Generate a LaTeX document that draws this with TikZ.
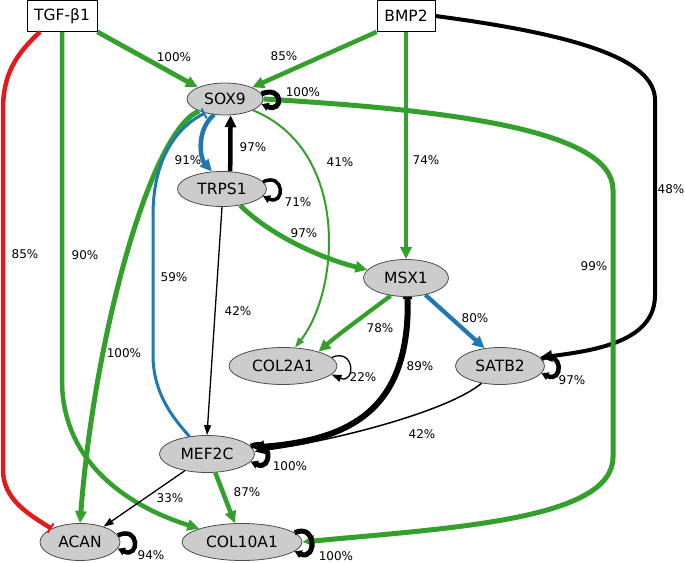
\documentclass[tikz,border=0pt]{standalone}
\usepackage{fontspec}
\setmainfont{DejaVu Sans}
\usetikzlibrary{shapes.geometric}
\usetikzlibrary{arrows.meta}
\definecolor{grn}{HTML}{33A02C}
\definecolor{blu}{HTML}{1F78B4}
\definecolor{rd}{HTML}{E31A1C}
\definecolor{genefill}{HTML}{CCCCCC}

\begin{document}
\begin{tikzpicture}[x=1pt, y=-1pt,
	gene/.style={ellipse, draw=black!70, fill=genefill, line width=0.8pt, inner sep=0pt, minimum height=37pt, font=\fontsize{15.5}{18}\selectfont},
	signal/.style={rectangle, draw=black, fill=white, line width=0.8pt, inner sep=0pt, minimum height=31pt, font=\fontsize{15.5}{18}\selectfont},
	pct/.style={inner sep=0pt, font=\fontsize{12}{14}\selectfont},
	act/.style={-{Triangle[length=12pt,width=11pt]}},
	actsm/.style={-{Triangle[length=10pt,width=7pt]}},
	actloop/.style={-{Triangle[length=7pt,width=8pt]}},
	inh/.style={-{Bar[width=11pt,line width=2pt]}}]
	\useasboundingbox (0,0) rectangle (685,562);
	\node[signal, minimum width=70pt] (tgf) at (62,16) {TGF-β1};
	\node[signal, minimum width=58pt] (bmp2) at (406,16) {BMP2};
	\node[gene, minimum width=76pt, minimum height=32pt] (sox9) at (225,99) {SOX9};
	\node[gene, minimum width=89pt, minimum height=35pt] (trps1) at (222,189) {TRPS1};
	\node[gene, minimum width=85pt] (msx1) at (406,278) {MSX1};
	\node[gene, minimum width=108pt] (col2a1) at (283,366) {COL2A1};
	\node[gene, minimum width=89pt] (satb2) at (500,366) {SATB2};
	\node[gene, minimum width=95pt] (mef2c) at (207,454) {MEF2C};
	\node[gene, minimum width=80pt] (acan) at (80,542) {ACAN};
	\node[gene, minimum width=120pt] (col10a1) at (242,542) {COL10A1};
	% signals
	\draw[line width=4.8pt, grn, act] (tgf.south east) -- (sox9.north west);
	\draw[line width=4.5pt, rd, inh] ([xshift=-22pt]tgf.south) .. controls (15,55) and (3,75) .. (3,110) -- (3,470) .. controls (3,500) and (30,515) .. (acan.north west);
	\draw[line width=4.5pt, grn, act] (tgf.south) -- (62,380) .. controls (62,470) and (140,510) .. (col10a1.north west);
	\draw[line width=4.5pt, grn, act] (bmp2.south west) -- (sox9.north east);
	\draw[line width=4pt, grn, act] (bmp2.south) -- (msx1.north);
	\draw[line width=4pt, act] (bmp2.east) .. controls (580,35) and (655,60) .. (655,100) -- (655,295) .. controls (655,340) and (600,350) .. (satb2.12);
	% SOX9
	\draw[line width=5pt, grn, act] (sox9.east) .. controls (450,110) and (613,130) .. (613,190) -- (613,457) .. controls (613,520) and (450,528) .. (col10a1.east);
	\draw[line width=5pt, actloop] (sox9.8) .. controls +(22,-9) and +(22,9) .. (sox9.-8);
	\draw[line width=4.5pt, blu, act] (sox9.-125) .. controls (196,130) and (200,158) .. (trps1.120);
	\draw[line width=2pt, grn, actsm] (sox9.-22) .. controls (350,150) and (340,290) .. (col2a1.57);
	\draw[line width=5pt, grn, act] (sox9.-155) .. controls (152,130) and (95,330) .. (acan.north);
	% TRPS1
	\draw[line width=4.5pt, act] (trps1.65) -- (sox9.-71);
	\draw[line width=3.5pt, actloop] (trps1.10) .. controls +(22,-10) and +(22,10) .. (trps1.-10);
	\draw[line width=4.8pt, grn, act] (trps1.-42) .. controls (270,235) and (320,258) .. (msx1.168);
	\draw[line width=1.3pt, actsm] (trps1.south) -- (mef2c.north);
	% MSX1
	\draw[line width=4.2pt, grn, act] (msx1.-131) .. controls (365,315) and (340,333) .. (col2a1.22);
	\draw[line width=4.2pt, blu, act] (msx1.-41) -- (satb2.131);
	\draw[line width=6pt, {Bar[width=9pt,line width=2pt]}-{Triangle[length=12pt,width=12pt]}] (msx1.-85) .. controls (410,410) and (350,440) .. (mef2c.8);
	% SATB2, COL2A1
	\draw[line width=1.5pt, actsm] (satb2.-137) .. controls (450,410) and (340,440) .. (mef2c.3);
	\draw[line width=4.5pt, actloop] (satb2.10) .. controls +(22,-10) and +(22,10) .. (satb2.-10);
	\draw[line width=1.3pt, actsm] (col2a1.10) .. controls +(24,-10) and +(24,10) .. (col2a1.-10);
	% MEF2C
	\draw[line width=3pt, blu, inh] (mef2c.135) .. controls (175,420) and (153,395) .. (153,355) -- (153,215) .. controls (153,165) and (172,130) .. (sox9.-145);
	\draw[line width=5pt, actloop] (mef2c.10) .. controls +(22,-10) and +(22,10) .. (mef2c.-10);
	\draw[line width=1.3pt, actsm] (mef2c.-143) -- (acan.33);
	\draw[line width=4.5pt, grn, act] (mef2c.-66) -- (col10a1.111);
	% targets
	\draw[line width=4.5pt, actloop] (acan.10) .. controls +(22,-10) and +(22,10) .. (acan.-10);
	\draw[line width=5pt, actloop] (col10a1.10) .. controls +(22,-10) and +(22,10) .. (col10a1.-10);
	% percentages
	\node[pct] (p1) at (174,57) {100\%};
	\node[pct] (p2) at (25,254) {85\%};
	\node[pct] (p3) at (85,255) {90\%};
	\node[pct] (p4) at (284,56) {85\%};
	\node[pct] (p5) at (426,160) {74\%};
	\node[pct] (p6) at (671,189) {48\%};
	\node[pct] (p7) at (594,266) {99\%};
	\node[pct] (p8) at (303,92) {100\%};
	\node[pct] (p9) at (188,160) {91\%};
	\node[pct] (p10) at (340,162) {41\%};
	\node[pct] (p11) at (124,353) {100\%};
	\node[pct] (p12) at (253,147) {97\%};
	\node[pct] (p13) at (298,202) {71\%};
	\node[pct] (p14) at (304,233) {97\%};
	\node[pct] (p15) at (238,311) {42\%};
	\node[pct] (p16) at (380,328) {78\%};
	\node[pct] (p17) at (475,318) {80\%};
	\node[pct] (p18) at (420,366) {89\%};
	\node[pct] (p19) at (422,434) {42\%};
	\node[pct] (p20) at (572,380) {97\%};
	\node[pct] (p21) at (363,377) {22\%};
	\node[pct] (p22) at (174,277) {59\%};
	\node[pct] (p23) at (290,466) {100\%};
	\node[pct] (p24) at (170,498) {33\%};
	\node[pct] (p25) at (247,492) {87\%};
	\node[pct] (p26) at (151,555) {94\%};
	\node[pct] (p27) at (336,556) {100\%};
\end{tikzpicture}
\end{document}
